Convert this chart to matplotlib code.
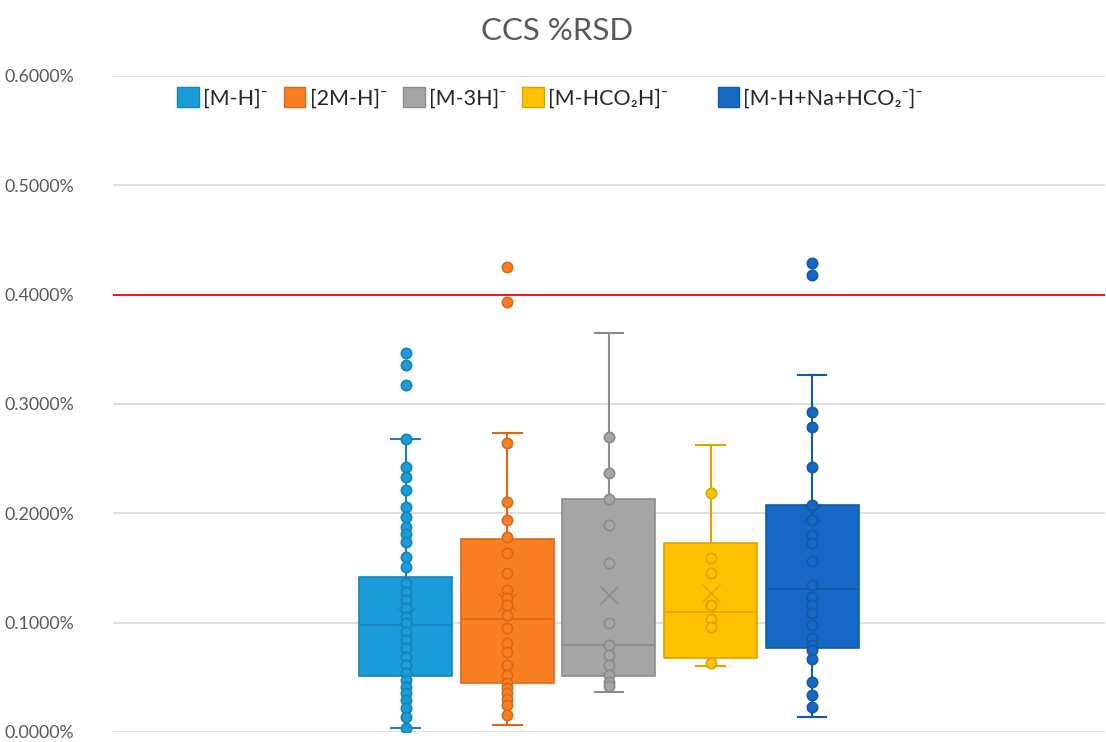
import matplotlib
matplotlib.use("Agg")
import matplotlib.pyplot as plt
from matplotlib.patches import Patch
from matplotlib.ticker import FuncFormatter

# Etiquetas de las series (iones)
labels = ["[M-H]⁻", "[2M-H]⁻", "[M-3H]⁻", "[M-HCO₂H]⁻", "[M-H+Na+HCO₂⁻]⁻"]
colores = ["#1A9CD8", "#FA7F22", "#A5A5A5", "#FFC000", "#1668C4"]
bordes = ["#1784B8", "#D86A18", "#8C8C8C", "#DDA500", "#115AA8"]

# Estadísticos de cada caja (%RSD)
q1 = [0.0512, 0.0445, 0.0512, 0.0674, 0.0765]
mediana = [0.0979, 0.1031, 0.0796, 0.1101, 0.1306]
q3 = [0.1415, 0.1763, 0.2129, 0.1726, 0.2077]
bigote_inf = [0.0034, 0.0060, 0.0369, 0.0604, 0.0134]
bigote_sup = [0.2677, 0.2733, 0.3648, 0.2626, 0.3266]
media = [0.1055, 0.1190, 0.1253, 0.1269, 0.2000]

# Puntos individuales
pts_mh = [0.3465, 0.3358, 0.3175, 0.2677, 0.2428, 0.2336, 0.2214, 0.2056, 0.1964,
          0.1873, 0.1812, 0.1735, 0.1598, 0.1507, 0.1363, 0.1284, 0.1208, 0.1131,
          0.1055, 0.0995, 0.0918, 0.0842, 0.0765, 0.0689, 0.0613, 0.0537, 0.0476,
          0.0415, 0.0354, 0.0293, 0.0217, 0.0140, 0.0034]
pts_2mh = [0.4257, 0.3937, 0.2641, 0.2107, 0.1942, 0.1787, 0.1636, 0.1453, 0.1299,
           0.1223, 0.1162, 0.1071, 0.0949, 0.0812, 0.0735, 0.0613, 0.0522, 0.0445,
           0.0400, 0.0354, 0.0300, 0.0247, 0.0156]
pts_m3h = [0.2696, 0.2367, 0.2129, 0.1894, 0.1543, 0.0995, 0.0796, 0.0704, 0.0613,
           0.0522, 0.0460, 0.0420]
pts_hco2h = [0.2184, 0.1589, 0.1453, 0.1162, 0.1031, 0.0958, 0.0629]
pts_na = [0.4288, 0.4181, 0.2931, 0.2785, 0.2422, 0.2077, 0.1940, 0.1800, 0.1726,
          0.1560, 0.1345, 0.1238, 0.1162, 0.1086, 0.0979, 0.0857, 0.0796, 0.0750,
          0.0665, 0.0460, 0.0339, 0.0232]
puntos = [pts_mh, pts_2mh, pts_m3h, pts_hco2h, pts_na]

limite = 0.4  # línea de referencia

fig = plt.figure(figsize=(11.06, 7.42), dpi=100)
ax = fig.add_axes([0.1022, 0.0135, 0.8968, 0.8841])

posiciones = list(range(len(labels)))
stats = []
for i in posiciones:
    stats.append({"med": mediana[i], "q1": q1[i], "q3": q3[i],
                  "whislo": bigote_inf[i], "whishi": bigote_sup[i],
                  "mean": media[i], "fliers": []})

for i in posiciones:
    ax.bxp([stats[i]], positions=[i], widths=0.915, patch_artist=True,
           showmeans=True, showfliers=False, capwidths=0.28,
           boxprops=dict(facecolor=colores[i], edgecolor=bordes[i], linewidth=1.2),
           medianprops=dict(color=bordes[i], linewidth=1.2),
           whiskerprops=dict(color=bordes[i], linewidth=1.5),
           capprops=dict(color=bordes[i], linewidth=1.5),
           meanprops=dict(marker="x", markeredgecolor=bordes[i], markersize=13,
                          markeredgewidth=1.0))
    ax.scatter([i] * len(puntos[i]), puntos[i], s=55, facecolor=colores[i],
               edgecolor=bordes[i], linewidth=1.2, zorder=4)

ax.axhline(limite, color="#FF0000", linewidth=1.3, zorder=1)

ax.set_xlim(2 - 4.88, 2 + 4.88)
ax.set_ylim(0, 0.6)
ax.set_yticks([0, 0.1, 0.2, 0.3, 0.4, 0.5, 0.6])
ax.yaxis.set_major_formatter(FuncFormatter(lambda v, p: f"{v:.4f}%"))
ax.set_xticks([])
ax.grid(axis="y", color="#D9D9D9", linewidth=1.2, zorder=0)
ax.set_axisbelow(True)
for s in ax.spines.values():
    s.set_visible(False)
ax.tick_params(axis="y", length=0, pad=78, labelsize=12.8, labelcolor="#595959")
for t in ax.get_yticklabels():
    t.set_horizontalalignment("left")
    t.set_family(["Lato", "DejaVu Sans"])

fig.text(0.504, 0.958, "CCS %RSD", ha="center", va="center", fontsize=22.5,
         color="#595959", family=["Lato", "DejaVu Sans"])

handles = [Patch(facecolor=colores[i], edgecolor=bordes[i]) for i in posiciones]
etiquetas_leyenda = labels[:3] + [labels[3] + "      "] + labels[4:]
ax.legend(handles, etiquetas_leyenda, loc="upper left", bbox_to_anchor=(0.045, 1.012),
          ncol=5, frameon=False, handlelength=1.0, handleheight=1.0,
          handletextpad=0.2, columnspacing=0.75,
          prop={"family": ["Lato", "DejaVu Sans"], "size": 15.5},
          labelcolor="#262626")

fig.savefig("out.png", dpi=100)
